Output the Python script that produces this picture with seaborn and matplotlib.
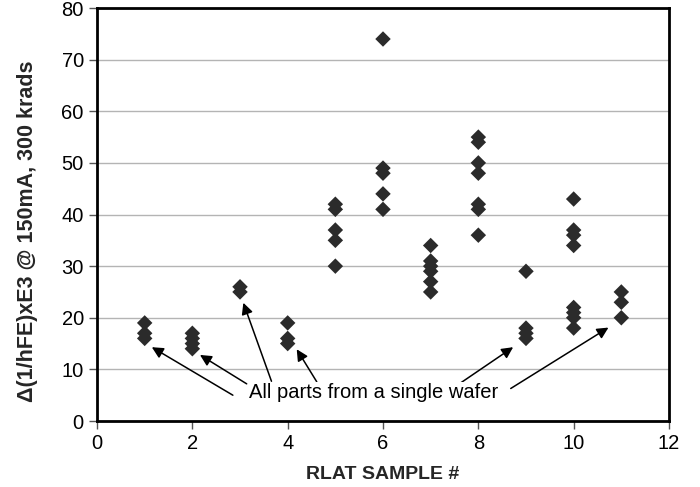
import matplotlib
matplotlib.use("Agg")
import matplotlib.pyplot as plt
import seaborn as sns
import pandas as pd

# values read per RLAT sample
sample_1 = [19, 17, 16]
sample_2 = [17, 16, 15, 14]
sample_3 = [26, 25]
sample_4 = [19, 16, 15]
sample_5 = [42, 41, 37, 35, 30]
sample_6 = [74, 49, 48, 44, 41]
sample_7 = [34, 31, 30, 29, 27, 25]
sample_8 = [55, 54, 50, 48, 42, 41, 36]
sample_9 = [29, 18, 17, 16]
sample_10 = [43, 37, 36, 34, 22, 21, 20, 18]
sample_11 = [25, 23, 20]

samples = [sample_1, sample_2, sample_3, sample_4, sample_5, sample_6,
           sample_7, sample_8, sample_9, sample_10, sample_11]

x_ticks = [0, 2, 4, 6, 8, 10, 12]
y_ticks = [0, 10, 20, 30, 40, 50, 60, 70, 80]

rows = []
for i, vals in enumerate(samples, 1):
    for v in vals:
        rows.append({"sample": i, "delta": v})
df = pd.DataFrame(rows)

sns.set_theme(style="white")
plt.rcParams['font.family'] = ['Liberation Sans', 'DejaVu Sans']

fig = plt.figure(figsize=(7, 4.87), dpi=100)
ax = fig.add_axes([0.1386, 0.1355, 0.8171, 0.848])

sns.scatterplot(data=df, x="sample", y="delta", marker="D", s=62,
                color="#2b2b2b", edgecolor="none", ax=ax, zorder=3)

ax.set_xlim(0, 12)
ax.set_ylim(0, 80)
ax.set_xticks(x_ticks)
ax.set_yticks(y_ticks)
ax.yaxis.grid(True, color="#b4b4b4", linewidth=1)
ax.set_axisbelow(True)
for sp in ax.spines.values():
    sp.set_color("black")
    sp.set_linewidth(2)
ax.tick_params(axis="both", direction="out", length=6, width=1,
               color="#555555", labelsize=14.5, labelcolor="black")
ax.tick_params(left=True, bottom=True)

ax.set_xlabel("RLAT SAMPLE #", fontsize=14, fontweight="bold", labelpad=9)
ax.set_ylabel("\u0394(1/hFE)xE3 @ 150mA, 300 krads", fontsize=15.5,
              fontweight="bold")
ax.yaxis.set_label_coords(-0.103, 0.46)

# annotation arrows: (tail, tip) in data coordinates
arrows = [((2.85, 5.0), (1.15, 14.3)),
          ((3.14, 7.2), (2.16, 12.8)),
          ((3.66, 7.7), (3.07, 22.9)),
          ((4.61, 7.6), (4.19, 13.9)),
          ((7.60, 7.2), (8.73, 14.3)),
          ((8.68, 6.3), (10.73, 18.1))]
for tail, tip in arrows:
    ax.annotate("", xy=tip, xytext=tail,
                arrowprops=dict(arrowstyle="-|>", color="black", lw=1.1,
                                mutation_scale=17, shrinkA=0, shrinkB=0))
ax.text(5.8, 5.6, "All parts from a single wafer", fontsize=14.5,
        ha="center", va="center", color="black",
        bbox=dict(facecolor="white", edgecolor="none", pad=0.5))

fig.savefig("out.png", dpi=100)
